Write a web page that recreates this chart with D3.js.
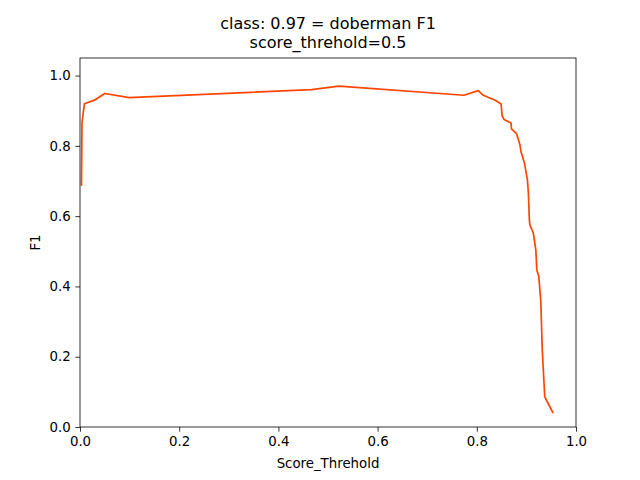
<!DOCTYPE html>
<html>
<head>
<meta charset="utf-8">
<script src="https://cdn.jsdelivr.net/npm/d3@7"></script>
<style>
  body { margin: 0; background: #fff; }
  text { font-family: "DejaVu Sans", sans-serif; }
</style>
</head>
<body>
<script>
// score threshold vs F1
var thresholds = [0.003, 0.004, 0.006, 0.009, 0.029, 0.050, 0.099, 0.467, 0.522, 0.774, 0.803,
  0.813, 0.837, 0.849, 0.851, 0.855, 0.869, 0.870, 0.880, 0.887, 0.889, 0.896, 0.902, 0.904,
  0.906, 0.907, 0.914, 0.919, 0.921, 0.925, 0.929, 0.932, 0.937, 0.953];
var f1 = [0.689, 0.865, 0.889, 0.920, 0.930, 0.949, 0.937, 0.960, 0.970, 0.944, 0.957,
  0.944, 0.930, 0.919, 0.886, 0.875, 0.865, 0.848, 0.835, 0.803, 0.784, 0.751, 0.704, 0.666,
  0.590, 0.575, 0.552, 0.504, 0.447, 0.428, 0.360, 0.219, 0.086, 0.042];
var xTicks = [0, 0.2, 0.4, 0.6, 0.8, 1.0];
var yTicks = [0, 0.2, 0.4, 0.6, 0.8, 1.0];
var titleLines = ["class: 0.97 = doberman F1", "score_threhold=0.5"];

var W = 640, H = 480;
var m = {left: 80, right: 64, top: 58, bottom: 53};

var svg = d3.select("body").append("svg")
    .attr("width", W)
    .attr("height", H);

var x = d3.scaleLinear().domain([0, 1]).range([m.left, W - m.right]);
var y = d3.scaleLinear().domain([0, 1.05]).range([H - m.bottom, m.top]);

var xAxis = d3.axisBottom(x).tickValues(xTicks).tickFormat(d3.format(".1f"))
    .tickSizeInner(4.67).tickSizeOuter(0).tickPadding(4.67);
var yAxis = d3.axisLeft(y).tickValues(yTicks).tickFormat(d3.format(".1f"))
    .tickSizeInner(4.67).tickSizeOuter(0).tickPadding(4.67);

svg.append("g")
    .attr("transform", "translate(0," + (H - m.bottom) + ")")
    .call(xAxis)
    .call(function(g) { g.select(".domain").remove(); })
    .selectAll("text")
    .style("font-size", "13.33px")
    .style("font-family", "DejaVu Sans")
    .attr("fill", "#000");

svg.append("g")
    .attr("transform", "translate(" + m.left + ",0)")
    .call(yAxis)
    .call(function(g) { g.select(".domain").remove(); })
    .selectAll("text")
    .style("font-size", "13.33px")
    .style("font-family", "DejaVu Sans")
    .attr("fill", "#000");

svg.selectAll(".tick line").attr("stroke", "#000").attr("stroke-width", 0.8);

// the curve
var line = d3.line()
    .x(function(d, i) { return x(thresholds[i]); })
    .y(function(d) { return y(d); });

svg.append("path")
    .datum(f1)
    .attr("d", line)
    .style("fill", "none")
    .style("stroke", "#ff4500")
    .style("stroke-width", 1.7)
    .style("stroke-linejoin", "round")
    .style("stroke-linecap", "square");

// frame
svg.append("rect")
    .attr("x", m.left)
    .attr("y", m.top)
    .attr("width", W - m.left - m.right)
    .attr("height", H - m.top - m.bottom)
    .style("fill", "none")
    .style("stroke", "#000")
    .style("stroke-width", 0.8);

// title
svg.append("text")
    .attr("text-anchor", "middle")
    .style("font-size", "16px")
    .selectAll("tspan")
    .data(titleLines)
    .enter().append("tspan")
    .attr("x", (m.left + W - m.right) / 2)
    .attr("y", function(d, i) { return 29 + i * 19; })
    .text(function(d) { return d; });

svg.append("text")
    .attr("x", (m.left + W - m.right) / 2)
    .attr("y", 468)
    .attr("text-anchor", "middle")
    .style("font-size", "13.33px")
    .text("Score_Threhold");

svg.append("text")
    .attr("transform", "translate(40," + ((m.top + H - m.bottom) / 2) + ") rotate(-90)")
    .attr("text-anchor", "middle")
    .style("font-size", "13.33px")
    .text("F1");
</script>
</body>
</html>
